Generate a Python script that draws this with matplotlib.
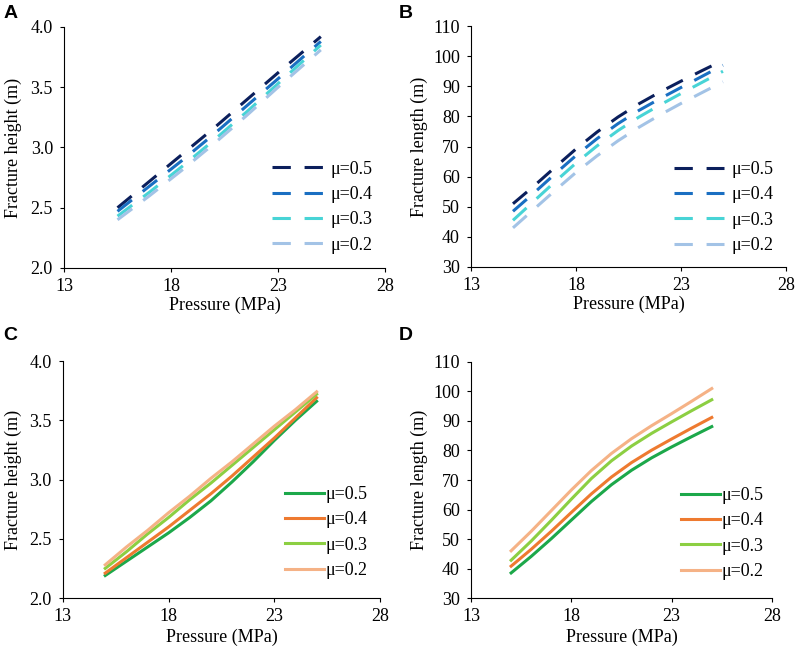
import matplotlib
matplotlib.use("Agg")
import matplotlib.pyplot as plt
from matplotlib.ticker import FormatStrFormatter

plt.rcParams['font.family'] = ['Liberation Serif', 'DejaVu Serif']
plt.rcParams['font.size'] = 13

# pressure (MPa)
pressure_a = [15.5, 17, 18.5, 20, 21.5, 23, 25]
pressure = [15, 16, 17, 18, 19, 20, 21, 22, 23, 24, 25]
mu_labels = ["μ=0.5", "μ=0.4", "μ=0.3", "μ=0.2"]

# A: fracture height (m), dashed
height_a = [
    [2.50, 2.72, 2.94, 3.16, 3.39, 3.62, 3.92],
    [2.47, 2.68, 2.89, 3.11, 3.34, 3.57, 3.88],
    [2.43, 2.63, 2.84, 3.06, 3.29, 3.53, 3.85],
    [2.40, 2.60, 2.81, 3.03, 3.26, 3.50, 3.81],
]
# B: fracture length (m), dashed
length_b = [
    [51.0, 56.9, 63.1, 69.2, 74.8, 79.8, 84.2, 88.1, 91.7, 95.2, 98.6],
    [48.5, 54.6, 60.9, 67.0, 72.6, 77.6, 82.0, 85.9, 89.6, 93.3, 97.0],
    [45.5, 51.9, 58.3, 64.5, 70.2, 75.3, 79.8, 83.8, 87.6, 91.3, 95.0],
    [43.0, 49.2, 55.4, 61.4, 66.9, 71.9, 76.4, 80.5, 84.3, 87.9, 91.5],
]
# C: fracture height (m), solid
height_c = [
    [2.19, 2.31, 2.43, 2.55, 2.68, 2.82, 2.98, 3.15, 3.33, 3.50, 3.66],
    [2.21, 2.34, 2.47, 2.60, 2.74, 2.88, 3.03, 3.19, 3.35, 3.52, 3.69],
    [2.25, 2.39, 2.54, 2.68, 2.83, 2.97, 3.12, 3.27, 3.42, 3.57, 3.72],
    [2.28, 2.43, 2.57, 2.72, 2.86, 3.01, 3.15, 3.30, 3.45, 3.59, 3.74],
]
# D: fracture length (m), solid
length_d = [
    [38.5, 44.1, 50.1, 56.4, 62.7, 68.4, 73.3, 77.5, 81.2, 84.7, 88.1],
    [40.8, 46.5, 52.6, 59.0, 65.3, 71.0, 75.9, 80.1, 83.9, 87.6, 91.2],
    [42.8, 49.3, 56.3, 63.5, 70.5, 76.5, 81.5, 85.8, 89.7, 93.5, 97.2],
    [46.0, 52.6, 59.6, 66.6, 73.2, 79.0, 84.0, 88.4, 92.5, 96.7, 101.0],
]

blues = ["#0b1f5c", "#1a6fc2", "#48d4d6", "#a3c3e6"]
warm = ["#1ca84a", "#ee7a30", "#8ccf42", "#f5b286"]

fig = plt.figure(figsize=(7.96, 6.52), dpi=100)
ax_a = fig.add_axes([0.0804, 0.589, 0.4033, 0.3696])
ax_b = fig.add_axes([0.5917, 0.5905, 0.3957, 0.3695])
ax_c = fig.add_axes([0.0791, 0.0828, 0.3983, 0.3635])
ax_d = fig.add_axes([0.5917, 0.0828, 0.3781, 0.3620])


def style(ax, ylim, yticks, ylabel, ylab_x, xlab_y):
    ax.set_xlim(13, 28)
    ax.set_xticks([13, 18, 23, 28])
    ax.set_ylim(*ylim)
    ax.set_yticks(yticks)
    ax.spines['top'].set_visible(False)
    ax.spines['right'].set_visible(False)
    for s in ['left', 'bottom']:
        ax.spines[s].set_linewidth(0.8)
    ax.tick_params(axis='both', direction='out', length=3, width=0.8)
    ax.tick_params(axis='y', pad=5)
    ax.tick_params(axis='x', pad=4)
    ax.set_xlabel("Pressure (MPa)")
    ax.set_ylabel(ylabel)
    ax.yaxis.set_label_coords(ylab_x, 0.5)
    ax.xaxis.set_label_coords(0.5, xlab_y)


for i in range(4):
    ax_a.plot(pressure_a, height_a[i], color=blues[i], lw=2.2,
              dashes=[6, 4.5], label=mu_labels[i])
    ax_b.plot(pressure, length_b[i], color=blues[i], lw=2.2,
              dashes=[6, 4.5], label=mu_labels[i])
    ax_c.plot(pressure, height_c[i], color=warm[i], lw=2.2, label=mu_labels[i])
    ax_d.plot(pressure, length_d[i], color=warm[i], lw=2.2, label=mu_labels[i])

style(ax_a, (2.0, 4.0), [2.0, 2.5, 3.0, 3.5, 4.0], "Fracture height (m)", -0.13, -0.12)
style(ax_b, (30, 110), range(30, 111, 10), "Fracture length (m)", -0.137, -0.12)
style(ax_c, (2.0, 4.0), [2.0, 2.5, 3.0, 3.5, 4.0], "Fracture height (m)", -0.13, -0.13)
style(ax_d, (30, 110), range(30, 111, 10), "Fracture length (m)", -0.143, -0.13)
ax_a.yaxis.set_major_formatter(FormatStrFormatter('%.1f'))
ax_c.yaxis.set_major_formatter(FormatStrFormatter('%.1f'))

ax_a.legend(loc='lower right', bbox_to_anchor=(0.96, 0.06), frameon=False,
            borderpad=0, borderaxespad=0, handlelength=2.8, handletextpad=0.4,
            labelspacing=0.46)
ax_b.legend(loc='lower right', bbox_to_anchor=(0.96, 0.054), frameon=False,
            borderpad=0, borderaxespad=0, handlelength=2.8, handletextpad=0.4,
            labelspacing=0.46)
ax_c.legend(loc='lower right', bbox_to_anchor=(0.962, 0.08), frameon=False,
            borderpad=0, borderaxespad=0, handlelength=2.15, handletextpad=0.1,
            labelspacing=0.46)
ax_d.legend(loc='lower right', bbox_to_anchor=(0.973, 0.076), frameon=False,
            borderpad=0, borderaxespad=0, handlelength=2.15, handletextpad=0.1,
            labelspacing=0.46)

for lab, x, y in [("A", 0.004, 0.993), ("B", 0.501, 0.993),
                  ("C", 0.004, 0.4985), ("D", 0.501, 0.4985)]:
    fig.text(x, y, lab, fontsize=14, fontweight='bold',
             family=['Liberation Sans', 'DejaVu Sans'], va='top', ha='left')

fig.savefig("out.png", dpi=100)
